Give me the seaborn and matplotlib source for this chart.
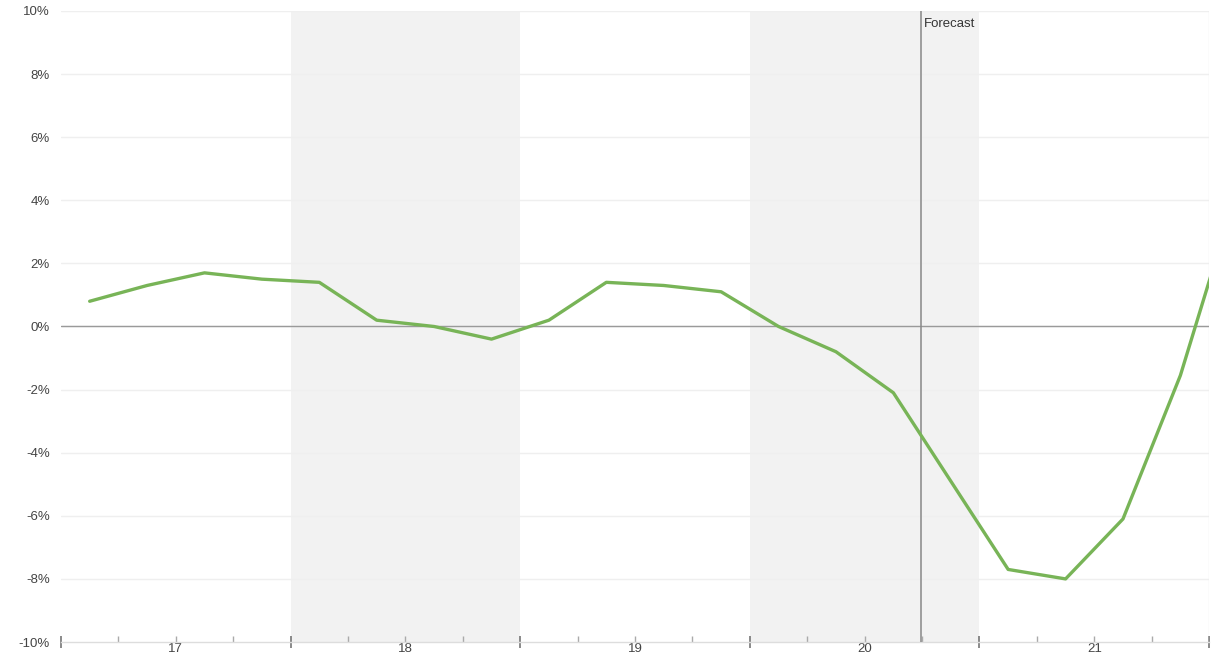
import numpy as np
import pandas as pd
import matplotlib
matplotlib.use("Agg")
import matplotlib.pyplot as plt
import seaborn as sns
from matplotlib.ticker import FixedLocator, FixedFormatter

# quarterly values, %; last ones are forecast
years = [2017]*4 + [2018]*4 + [2019]*4 + [2020]*4 + [2021]*4 + [2022]
quarters = [1, 2, 3, 4]*5 + [1]
values = [0.8, 1.3, 1.7, 1.5,
          1.4, 0.2, 0.0, -0.4,
          0.2, 1.4, 1.3, 1.1,
          0.0, -0.8, -2.1, -4.9,
          -7.7, -8.0, -6.1, -1.55,
          4.4]
year_labels = ["17", "18", "19", "20", "21"]
shaded_years = [2018, 2020]
forecast_at = 2020.745

df = pd.DataFrame({"year": years, "q": quarters, "value": values})
df["t"] = df["year"] + (df["q"] - 0.5) / 4

sns.set_theme(style="white")
plt.rcParams["font.family"] = ["Liberation Sans", "DejaVu Sans"]

fig = plt.figure(figsize=(12.17, 6.57), dpi=100)
ax = fig.add_axes([0.0501, 0.0228, 0.9434, 0.9605])

for y in shaded_years:
    ax.axvspan(y, y + 1, color="#f2f2f2", lw=0, zorder=0)

for g in range(-8, 11, 2):
    ax.axhline(g, color="#efefef", lw=1, zorder=1)
ax.axhline(0, color="#9a9a9a", lw=1, zorder=2)
ax.axvline(2022, color="#ececec", lw=1, zorder=1)

sns.lineplot(data=df, x="t", y="value", ax=ax, color="#78b457", lw=2.4, zorder=4)

ax.axvline(forecast_at, color="#888888", lw=1.1, zorder=3)
ax.text(forecast_at + 0.012, 9.6, "Forecast", fontsize=9.5, color="#333333",
        ha="left", va="center")

ax.set_xlim(2017, 2022)
ax.set_ylim(-10, 10)
ax.set_xlabel("")
ax.set_ylabel("")

ax.set_yticks(range(-10, 11, 2))
ax.set_yticklabels([f"{v}%" for v in range(-10, 11, 2)], fontsize=9.5, color="#444444")
ax.tick_params(axis="y", length=0, pad=8)

major = list(range(2017, 2023))
ax.xaxis.set_major_locator(FixedLocator(major))
ax.xaxis.set_major_formatter(FixedFormatter([""] * len(major)))
minor_pos = []
minor_lab = []
for i, y in enumerate(range(2017, 2022)):
    for q, lab in zip([0.25, 0.5, 0.75], ["", year_labels[i], ""]):
        minor_pos.append(y + q)
        minor_lab.append(lab)
ax.xaxis.set_minor_locator(FixedLocator(minor_pos))
ax.xaxis.set_minor_formatter(FixedFormatter(minor_lab))
ax.tick_params(axis="x", which="both", bottom=True)
ax.tick_params(axis="x", which="major", direction="inout", length=9, width=1.2, color="#777777")
ax.tick_params(axis="x", which="minor", direction="in", length=4, width=1, color="#aaaaaa",
               labelsize=9.5, labelcolor="#444444", pad=1)

for s in ["left", "right", "top"]:
    ax.spines[s].set_visible(False)
ax.spines["bottom"].set_color("#dddddd")
ax.spines["bottom"].set_linewidth(1)

fig.savefig("out.png", dpi=100)
